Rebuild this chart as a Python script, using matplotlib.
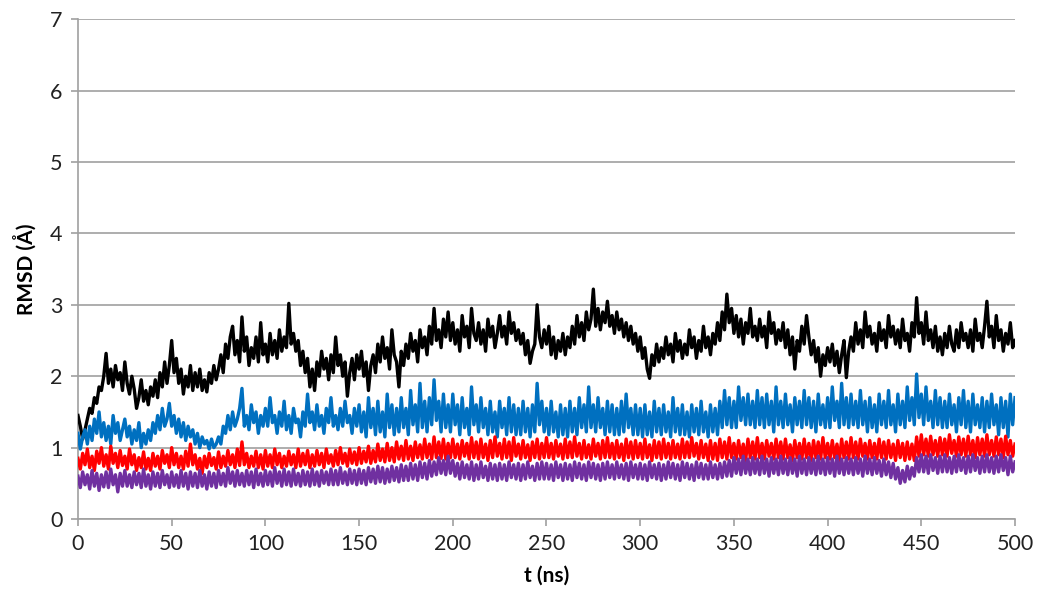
import matplotlib
matplotlib.use("Agg")
import matplotlib.pyplot as plt
import numpy as np

# time axis: one sample every 1.25 ns (401 frames)
t = np.linspace(0, 500, 401)

black = [
    1.45, 1.30, 1.12, 1.25, 1.40, 1.55, 1.48, 1.70, 1.62, 1.85,
    1.80, 2.00, 2.32, 1.90, 2.10, 1.85, 2.15, 1.95, 2.05, 1.80,
    2.20, 1.90, 1.75, 2.00, 1.82, 1.55, 1.70, 1.95, 1.65, 1.80,
    1.60, 1.85, 1.72, 1.95, 1.70, 2.05, 1.85, 2.20, 1.90, 2.15,
    2.50, 2.05, 2.25, 1.90, 2.10, 1.75, 2.00, 1.85, 2.15, 1.80,
    2.05, 1.85, 2.10, 1.80, 1.95, 1.78, 2.05, 1.90, 2.15, 1.95,
    2.10, 2.30, 2.05, 2.45, 2.25, 2.55, 2.70, 2.30, 2.50, 2.20,
    2.83, 2.35, 2.55, 2.15, 2.40, 2.25, 2.55, 2.20, 2.75, 2.30,
    2.45, 2.20, 2.60, 2.30, 2.50, 2.25, 2.65, 2.35, 2.55, 2.40,
    3.02, 2.45, 2.60, 2.35, 2.50, 2.15, 2.35, 2.05, 2.25, 1.85,
    2.10, 1.80, 2.20, 2.00, 2.35, 2.10, 2.25, 1.95, 2.30, 2.05,
    2.55, 2.15, 2.30, 2.00, 2.20, 1.72, 2.05, 2.25, 1.95, 2.30,
    2.10, 2.35, 2.00, 2.20, 1.80, 2.15, 2.30, 2.05, 2.45, 2.20,
    2.55, 2.25, 2.40, 2.10, 2.65, 2.30, 2.20, 1.85, 2.35, 2.15,
    2.45, 2.25, 2.60, 2.35, 2.50, 2.20, 2.65, 2.40, 2.55, 2.30,
    2.70, 2.45, 2.95, 2.50, 2.65, 2.40, 2.80, 2.55, 2.90, 2.50,
    2.75, 2.45, 2.65, 2.35, 2.85, 2.55, 2.70, 2.40, 2.95, 2.60,
    2.50, 2.75, 2.45, 2.65, 2.35, 2.80, 2.55, 2.70, 2.40, 2.60,
    2.85, 2.55, 2.70, 2.45, 2.90, 2.60, 2.75, 2.50, 2.65, 2.45,
    2.60, 2.30, 2.50, 2.18, 2.35, 2.45, 3.00, 2.55, 2.40, 2.65,
    2.45, 2.70, 2.30, 2.55, 2.25, 2.50, 2.35, 2.60, 2.30, 2.55,
    2.40, 2.70, 2.45, 2.85, 2.55, 2.75, 2.50, 2.90, 2.65, 2.80,
    3.22, 2.70, 2.95, 2.65, 2.90, 2.75, 3.05, 2.70, 2.85, 2.60,
    2.90, 2.65, 2.80, 2.55, 2.75, 2.50, 2.70, 2.45, 2.60, 2.35,
    2.55, 2.25, 2.40, 2.10, 1.97, 2.30, 2.15, 2.45, 2.20, 2.40,
    2.25, 2.55, 2.30, 2.45, 2.20, 2.60, 2.35, 2.50, 2.25, 2.45,
    2.30, 2.65, 2.40, 2.55, 2.25, 2.50, 2.35, 2.70, 2.40, 2.55,
    2.30, 2.60, 2.45, 2.75, 2.50, 2.90, 2.65, 3.15, 2.75, 2.95,
    2.60, 2.85, 2.55, 2.80, 2.45, 2.75, 2.60, 2.95, 2.55, 2.70,
    2.50, 2.80, 2.55, 2.70, 2.40, 2.90, 2.60, 2.75, 2.45, 2.65,
    2.50, 2.75, 2.40, 2.65, 2.30, 2.55, 2.10, 2.50, 2.35, 2.70,
    2.45, 2.85, 2.55, 2.30, 2.50, 2.20, 2.40, 2.00, 2.30, 2.15,
    2.40, 2.20, 2.45, 2.15, 2.35, 2.05, 2.30, 2.50, 1.98, 2.35,
    2.55, 2.35, 2.75, 2.45, 2.65, 2.40, 2.90, 2.55, 2.70, 2.45,
    2.60, 2.35, 2.75, 2.50, 2.65, 2.40, 2.85, 2.55, 2.70, 2.45,
    2.65, 2.40, 2.80, 2.50, 2.60, 2.35, 2.75, 2.55, 3.10, 2.60,
    2.75, 2.45, 2.90, 2.50, 2.65, 2.40, 2.70, 2.35, 2.55, 2.30,
    2.60, 2.40, 2.70, 2.45, 2.35, 2.65, 2.40, 2.75, 2.50, 2.60,
    2.40, 2.65, 2.35, 2.80, 2.50, 2.60, 2.40, 2.70, 3.05, 2.55,
    2.70, 2.40, 2.85, 2.50, 2.65, 2.35, 2.60, 2.45, 2.75, 2.40,
    2.50,
]

blue = [
    1.20, 0.98, 1.15, 1.25, 1.05, 1.30, 1.10, 1.40, 1.20, 1.50,
    1.15, 1.35, 1.10, 1.30, 1.05, 1.45, 1.20, 1.35, 1.10, 1.25,
    1.40, 1.15, 1.30, 1.05, 1.25, 1.10, 1.35, 1.00, 1.20, 1.05,
    1.25, 1.10, 1.35, 1.20, 1.45, 1.25, 1.55, 1.30, 1.40, 1.62,
    1.30, 1.45, 1.20, 1.40, 1.15, 1.35, 1.10, 1.30, 1.15, 1.25,
    1.05, 1.20, 1.00, 1.15, 1.05, 1.10, 0.98, 1.12, 1.00, 1.05,
    1.15, 1.05, 1.30, 1.20, 1.45, 1.25, 1.50, 1.30, 1.40, 1.55,
    1.83, 1.30, 1.45, 1.25, 1.60, 1.35, 1.50, 1.20, 1.45, 1.30,
    1.55, 1.30, 1.70, 1.35, 1.45, 1.20, 1.50, 1.30, 1.65, 1.25,
    1.45, 1.20, 1.55, 1.35, 1.40, 1.15, 1.50, 1.30, 1.75, 1.35,
    1.50, 1.25, 1.60, 1.30, 1.45, 1.20, 1.55, 1.35, 1.70, 1.30,
    1.45, 1.25, 1.55, 1.30, 1.65, 1.35, 1.45, 1.20, 1.55, 1.30,
    1.60, 1.22, 1.50, 1.15, 1.70, 1.28, 1.55, 1.18, 1.65, 1.22,
    1.50, 1.15, 1.75, 1.28, 1.60, 1.18, 1.55, 1.22, 1.70, 1.28,
    1.55, 1.18, 1.80, 1.32, 1.60, 1.22, 1.90, 1.28, 1.65, 1.22,
    1.70, 1.32, 1.95, 1.38, 1.65, 1.22, 1.75, 1.28, 1.60, 1.22,
    1.75, 1.32, 1.60, 1.18, 1.70, 1.28, 1.55, 1.18, 1.85, 1.32,
    1.60, 1.22, 1.70, 1.28, 1.55, 1.18, 1.65, 1.22, 1.50, 1.15,
    1.65, 1.28, 1.55, 1.18, 1.70, 1.22, 1.60, 1.18, 1.55, 1.18,
    1.65, 1.22, 1.55, 1.15, 1.60, 1.22, 1.90, 1.32, 1.65, 1.22,
    1.55, 1.18, 1.65, 1.22, 1.50, 1.15, 1.60, 1.18, 1.55, 1.15,
    1.65, 1.22, 1.55, 1.18, 1.70, 1.28, 1.60, 1.22, 1.85, 1.28,
    1.60, 1.22, 1.70, 1.28, 1.55, 1.18, 1.65, 1.22, 1.60, 1.18,
    1.55, 1.18, 1.65, 1.22, 1.75, 1.28, 1.55, 1.18, 1.60, 1.18,
    1.55, 1.15, 1.60, 1.18, 1.50, 1.15, 1.65, 1.22, 1.55, 1.18,
    1.60, 1.22, 1.50, 1.15, 1.70, 1.22, 1.55, 1.18, 1.60, 1.18,
    1.50, 1.15, 1.60, 1.22, 1.55, 1.18, 1.65, 1.22, 1.50, 1.15,
    1.60, 1.22, 1.55, 1.18, 1.65, 1.28, 1.80, 1.32, 1.70, 1.28,
    1.65, 1.28, 1.85, 1.38, 1.70, 1.32, 1.75, 1.32, 1.65, 1.28,
    1.80, 1.32, 1.70, 1.28, 1.75, 1.32, 1.65, 1.22, 1.85, 1.32,
    1.65, 1.28, 1.75, 1.32, 1.60, 1.22, 1.70, 1.32, 1.65, 1.28,
    1.80, 1.32, 1.70, 1.28, 1.65, 1.22, 1.75, 1.32, 1.60, 1.28,
    1.70, 1.28, 1.85, 1.38, 1.65, 1.28, 1.90, 1.32, 1.70, 1.28,
    1.75, 1.32, 1.65, 1.28, 1.80, 1.32, 1.65, 1.22, 1.70, 1.28,
    1.60, 1.22, 1.75, 1.32, 1.65, 1.28, 1.80, 1.32, 1.60, 1.22,
    1.75, 1.32, 1.65, 1.28, 1.85, 1.38, 1.70, 1.32, 2.03, 1.42,
    1.75, 1.32, 1.85, 1.38, 1.65, 1.28, 1.80, 1.32, 1.70, 1.28,
    1.65, 1.28, 1.75, 1.32, 1.60, 1.22, 1.70, 1.32, 1.80, 1.28,
    1.65, 1.22, 1.75, 1.32, 1.60, 1.28, 1.70, 1.22, 1.65, 1.28,
    1.75, 1.32, 1.60, 1.18, 1.70, 1.28, 1.65, 1.15, 1.75, 1.32,
    1.70,
]

red = [
    0.85, 0.70, 0.92, 0.76, 0.98, 0.72, 0.88, 0.68, 0.95, 0.78,
    1.00, 0.74, 0.90, 0.70, 1.02, 0.78, 0.92, 0.72, 0.96, 0.75,
    0.88, 0.70, 0.98, 0.76, 0.90, 0.68, 0.86, 0.72, 0.94, 0.70,
    0.85, 0.68, 0.92, 0.74, 0.88, 0.70, 0.96, 0.78, 0.90, 0.72,
    1.00, 0.76, 0.92, 0.72, 0.88, 0.70, 0.95, 0.74, 1.05, 0.76,
    0.90, 0.70, 0.85, 0.64, 0.88, 0.72, 0.92, 0.75, 0.86, 0.70,
    0.94, 0.72, 0.88, 0.74, 0.96, 0.76, 0.90, 0.72, 0.98, 0.75,
    1.08, 0.76, 0.92, 0.72, 0.88, 0.74, 0.95, 0.72, 0.90, 0.70,
    0.96, 0.74, 0.90, 0.72, 0.98, 0.76, 0.92, 0.72, 0.88, 0.74,
    0.95, 0.76, 0.90, 0.72, 0.98, 0.74, 0.92, 0.76, 0.96, 0.72,
    0.90, 0.74, 0.96, 0.76, 0.92, 0.72, 0.98, 0.78, 0.90, 0.74,
    0.96, 0.76, 1.00, 0.78, 0.92, 0.74, 0.98, 0.78, 0.94, 0.76,
    1.00, 0.78, 0.95, 0.80, 1.02, 0.78, 0.96, 0.80, 1.05, 0.82,
    0.98, 0.80, 1.06, 0.82, 1.00, 0.80, 1.08, 0.84, 1.02, 0.82,
    1.10, 0.84, 1.02, 0.82, 1.08, 0.86, 1.04, 0.84, 1.12, 0.86,
    1.05, 0.84, 1.15, 0.86, 1.08, 0.85, 1.12, 0.84, 1.06, 0.86,
    1.12, 0.86, 1.05, 0.84, 1.10, 0.88, 1.06, 0.84, 1.14, 0.86,
    1.08, 0.84, 1.12, 0.86, 1.05, 0.82, 1.10, 0.86, 1.15, 0.88,
    1.06, 0.84, 1.12, 0.86, 1.08, 0.82, 1.14, 0.88, 1.05, 0.84,
    1.10, 0.86, 1.04, 0.82, 1.08, 0.86, 1.12, 0.84, 1.06, 0.86,
    1.14, 0.86, 1.06, 0.84, 1.10, 0.88, 1.05, 0.84, 1.12, 0.86,
    1.08, 0.86, 1.15, 0.88, 1.06, 0.84, 1.10, 0.86, 1.04, 0.84,
    1.12, 0.88, 1.06, 0.84, 1.10, 0.86, 1.14, 0.86, 1.06, 0.84,
    1.10, 0.86, 1.05, 0.82, 1.12, 0.86, 1.08, 0.84, 1.10, 0.86,
    1.06, 0.84, 1.12, 0.86, 1.04, 0.82, 1.10, 0.86, 1.08, 0.84,
    1.12, 0.86, 1.06, 0.84, 1.10, 0.86, 1.05, 0.84, 1.12, 0.86,
    1.08, 0.86, 1.14, 0.88, 1.06, 0.84, 1.10, 0.86, 1.05, 0.82,
    1.10, 0.84, 1.06, 0.82, 1.12, 0.86, 1.08, 0.84, 1.14, 0.86,
    1.06, 0.84, 1.10, 0.86, 1.05, 0.82, 1.12, 0.86, 1.08, 0.84,
    1.14, 0.86, 1.06, 0.84, 1.10, 0.88, 1.06, 0.84, 1.12, 0.86,
    1.08, 0.84, 1.12, 0.86, 1.04, 0.82, 1.10, 0.86, 1.06, 0.84,
    1.12, 0.86, 1.06, 0.82, 1.10, 0.86, 1.08, 0.84, 1.14, 0.86,
    1.06, 0.84, 1.10, 0.86, 1.05, 0.82, 1.12, 0.86, 1.08, 0.84,
    1.14, 0.86, 1.08, 0.84, 1.12, 0.88, 1.06, 0.84, 1.10, 0.86,
    1.06, 0.84, 1.12, 0.86, 1.08, 0.84, 1.10, 0.86, 1.05, 0.82,
    1.10, 0.86, 1.06, 0.82, 1.08, 0.84, 1.05, 0.82, 1.15, 0.88,
    1.18, 0.90, 1.12, 0.88, 1.16, 0.90, 1.10, 0.88, 1.14, 0.90,
    1.12, 0.88, 1.18, 0.92, 1.10, 0.88, 1.15, 0.90, 1.12, 0.88,
    1.16, 0.90, 1.10, 0.86, 1.14, 0.90, 1.12, 0.88, 1.18, 0.90,
    1.10, 0.88, 1.15, 0.90, 1.12, 0.86, 1.16, 0.90, 1.10, 0.88,
    1.05,
]

purple = [
    0.60, 0.44, 0.66, 0.48, 0.62, 0.42, 0.68, 0.46, 0.64, 0.40,
    0.62, 0.45, 0.66, 0.44, 0.70, 0.48, 0.62, 0.38, 0.64, 0.46,
    0.68, 0.46, 0.62, 0.44, 0.66, 0.48, 0.64, 0.44, 0.70, 0.46,
    0.62, 0.42, 0.66, 0.46, 0.64, 0.44, 0.68, 0.48, 0.62, 0.44,
    0.66, 0.46, 0.62, 0.44, 0.68, 0.46, 0.64, 0.42, 0.66, 0.46,
    0.64, 0.44, 0.68, 0.46, 0.62, 0.42, 0.66, 0.46, 0.64, 0.44,
    0.68, 0.48, 0.64, 0.46, 0.72, 0.50, 0.66, 0.46, 0.68, 0.48,
    0.64, 0.46, 0.68, 0.48, 0.66, 0.44, 0.70, 0.48, 0.64, 0.46,
    0.68, 0.48, 0.66, 0.46, 0.72, 0.50, 0.66, 0.46, 0.70, 0.48,
    0.66, 0.46, 0.70, 0.48, 0.64, 0.46, 0.68, 0.48, 0.66, 0.46,
    0.70, 0.48, 0.66, 0.46, 0.68, 0.50, 0.66, 0.48, 0.70, 0.48,
    0.68, 0.48, 0.72, 0.50, 0.66, 0.48, 0.70, 0.50, 0.68, 0.48,
    0.70, 0.50, 0.68, 0.48, 0.72, 0.52, 0.70, 0.50, 0.74, 0.52,
    0.72, 0.50, 0.70, 0.52, 0.74, 0.54, 0.72, 0.52, 0.76, 0.54,
    0.74, 0.54, 0.78, 0.56, 0.76, 0.54, 0.80, 0.58, 0.78, 0.56,
    0.82, 0.60, 0.80, 0.62, 0.86, 0.64, 0.82, 0.62, 0.88, 0.64,
    0.82, 0.60, 0.78, 0.56, 0.80, 0.58, 0.76, 0.56, 0.80, 0.54,
    0.76, 0.56, 0.80, 0.58, 0.74, 0.54, 0.78, 0.56, 0.76, 0.54,
    0.78, 0.56, 0.76, 0.54, 0.80, 0.58, 0.76, 0.56, 0.78, 0.54,
    0.76, 0.56, 0.80, 0.58, 0.74, 0.54, 0.78, 0.56, 0.80, 0.56,
    0.78, 0.56, 0.76, 0.54, 0.80, 0.58, 0.76, 0.54, 0.78, 0.56,
    0.76, 0.54, 0.80, 0.58, 0.78, 0.56, 0.76, 0.54, 0.80, 0.58,
    0.78, 0.56, 0.76, 0.54, 0.78, 0.56, 0.80, 0.58, 0.76, 0.56,
    0.80, 0.58, 0.76, 0.56, 0.78, 0.54, 0.80, 0.58, 0.76, 0.56,
    0.78, 0.56, 0.76, 0.54, 0.80, 0.58, 0.76, 0.56, 0.78, 0.54,
    0.76, 0.56, 0.80, 0.58, 0.78, 0.56, 0.76, 0.54, 0.80, 0.58,
    0.78, 0.56, 0.76, 0.54, 0.80, 0.58, 0.78, 0.56, 0.76, 0.56,
    0.80, 0.58, 0.76, 0.56, 0.78, 0.58, 0.80, 0.60, 0.82, 0.60,
    0.86, 0.64, 0.84, 0.62, 0.88, 0.64, 0.84, 0.62, 0.86, 0.64,
    0.84, 0.62, 0.88, 0.64, 0.84, 0.60, 0.86, 0.64, 0.84, 0.62,
    0.88, 0.64, 0.84, 0.62, 0.86, 0.64, 0.84, 0.60, 0.88, 0.64,
    0.84, 0.62, 0.86, 0.64, 0.84, 0.62, 0.88, 0.64, 0.84, 0.62,
    0.86, 0.64, 0.84, 0.60, 0.88, 0.64, 0.84, 0.62, 0.86, 0.64,
    0.84, 0.62, 0.86, 0.64, 0.84, 0.60, 0.88, 0.64, 0.84, 0.62,
    0.86, 0.64, 0.82, 0.60, 0.84, 0.62, 0.80, 0.58, 0.78, 0.56,
    0.72, 0.50, 0.68, 0.52, 0.74, 0.56, 0.72, 0.60, 0.86, 0.66,
    0.90, 0.66, 0.88, 0.64, 0.90, 0.68, 0.86, 0.64, 0.88, 0.66,
    0.90, 0.66, 0.86, 0.64, 0.88, 0.66, 0.90, 0.68, 0.86, 0.64,
    0.88, 0.66, 0.90, 0.68, 0.86, 0.64, 0.88, 0.66, 0.90, 0.66,
    0.86, 0.64, 0.88, 0.66, 0.90, 0.68, 0.86, 0.62, 0.88, 0.66,
    0.80,
]

series = [(black, "#000000"), (blue, "#0070C0"), (red, "#FF0000"), (purple, "#7030A0")]

plt.rcParams['font.family'] = ['Lato', 'DejaVu Sans']
grey = "#A0A0A0"

fig = plt.figure(figsize=(10.37, 6.01), dpi=100)
ax = fig.add_axes([0.0752, 0.1364, 0.9036, 0.8316])

for y, c in series:
    ax.plot(t, y, color=c, lw=2.4, zorder=3)

ax.set_xlim(0, 500)
ax.set_ylim(0, 7)
ax.set_xticks(np.arange(0, 501, 50))
ax.set_yticks(np.arange(0, 8, 1))
ax.grid(axis='y', color=grey, lw=1.2, zorder=0)
ax.set_axisbelow(True)

for s in ['top', 'right']:
    ax.spines[s].set_visible(False)
for s in ['left', 'bottom']:
    ax.spines[s].set_color(grey)
    ax.spines[s].set_linewidth(1.2)
ax.tick_params(colors='#222222', labelsize=15.5, length=5, width=1.2,
               color=grey, direction='out', pad=6)

ax.set_xlabel('t (ns)', fontsize=15, fontweight='bold', labelpad=8)
ax.set_ylabel('RMSD (Å)', fontsize=15, fontweight='bold', labelpad=10)

fig.savefig('out.png', dpi=100)
